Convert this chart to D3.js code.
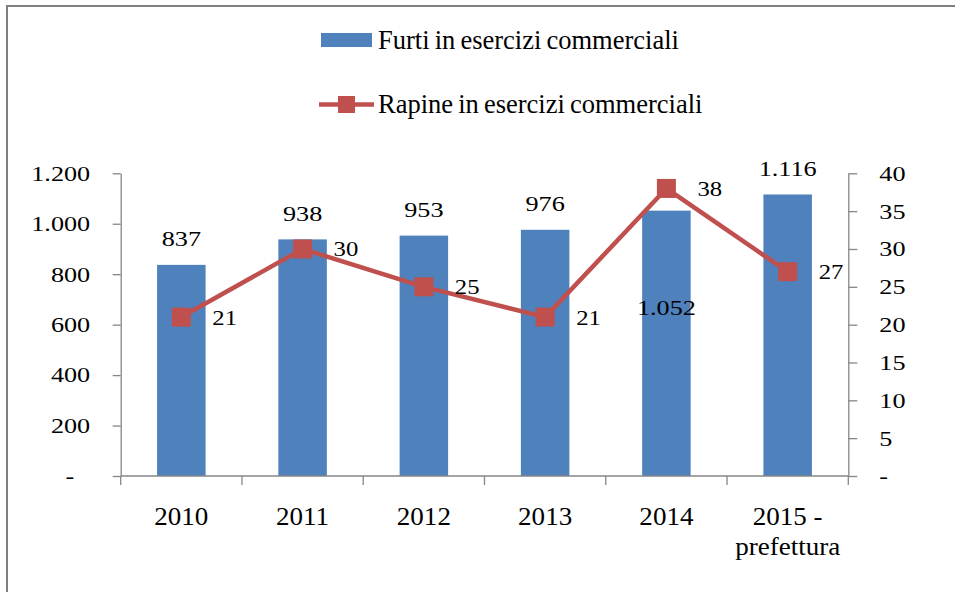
<!DOCTYPE html>
<html>
<head>
<meta charset="utf-8">
<script src="https://cdn.jsdelivr.net/npm/d3@7"></script>
<style>
  body { margin: 0; background: #fff; }
  svg { display: block; font-family: "Liberation Serif", "Times New Roman", serif; }
</style>
</head>
<body>
<svg id="chart"></svg>
<script>
// dati
const categories = ['2010', '2011', '2012', '2013', '2014', '2015 -\nprefettura'];
const furti = [837, 938, 953, 976, 1052, 1116];
const rapine = [21, 30, 25, 21, 38, 27];
const leftTicks = [0, 200, 400, 600, 800, 1000, 1200];
const rightTicks = [0, 5, 10, 15, 20, 25, 30, 35, 40];
const seriesNames = ['Furti in esercizi commerciali', 'Rapine in esercizi commerciali'];

const width = 955;
const height = 592;
const plot = { left: 120.7, right: 848.3, top: 173.3, bottom: 476 };
const barColor = '#4F81BD';
const lineColor = '#C0504D';
const axisColor = '#868686';
const numSize = 21.5;   // numeri un po' "allargati"
const stretch = 1.22;

// formato italiano: 1.200, zero = "-"
const fmt = v => v === 0 ? '-' : d3.format(',')(v).replace(/,/g, '.');

const svg = d3.select('#chart').attr('width', width).attr('height', height);

// cornice
svg.append('rect')
  .attr('x', 7).attr('y', 6)
  .attr('width', 1000).attr('height', 700)
  .attr('fill', '#fff')
  .attr('stroke', '#7f7f7f')
  .attr('stroke-width', 2);

// scale
const x = d3.scaleBand().domain(categories).range([plot.left, plot.right]).padding(0);
const yLeft = d3.scaleLinear().domain([0, 1200]).range([plot.bottom, plot.top]);
const yRight = d3.scaleLinear().domain([0, 40]).range([plot.bottom, plot.top]);
const barW = x.bandwidth() / 2.5;

// barre
svg.append('g')
  .selectAll('rect')
  .data(furti)
  .join('rect')
  .attr('x', (d, i) => x(categories[i]) + (x.bandwidth() - barW) / 2)
  .attr('y', d => yLeft(d))
  .attr('width', barW)
  .attr('height', d => plot.bottom - yLeft(d))
  .attr('fill', barColor);

// asse sinistro
const gLeft = svg.append('g')
  .attr('transform', `translate(${plot.left},0)`)
  .call(d3.axisLeft(yLeft).tickValues(leftTicks).tickFormat(fmt).tickSize(8).tickSizeOuter(0));
gLeft.selectAll('text')
  .attr('x', d => d === 0 ? -38 : -25)
  .attr('transform', `scale(${stretch},1)`);

// asse destro
const gRight = svg.append('g')
  .attr('transform', `translate(${plot.right},0)`)
  .call(d3.axisRight(yRight).tickValues(rightTicks).tickFormat(fmt).tickSize(9).tickSizeOuter(0));
gRight.selectAll('text')
  .attr('x', 25.4)
  .attr('transform', `scale(${stretch},1)`);

[gLeft, gRight].forEach(g => {
  g.selectAll('text')
    .attr('font-size', numSize)
    .attr('font-family', '"Liberation Serif", "Times New Roman", serif')
    .attr('fill', '#000');
  g.selectAll('line').attr('stroke', axisColor).attr('stroke-width', 1.3);
  g.select('.domain').attr('stroke', axisColor).attr('stroke-width', 1.3);
});

// asse x
svg.append('line')
  .attr('x1', plot.left).attr('x2', plot.right)
  .attr('y1', plot.bottom).attr('y2', plot.bottom)
  .attr('stroke', axisColor).attr('stroke-width', 1.3);

svg.append('g')
  .selectAll('line')
  .data(d3.range(categories.length + 1))
  .join('line')
  .attr('x1', i => plot.left + i * x.step())
  .attr('x2', i => plot.left + i * x.step())
  .attr('y1', plot.bottom)
  .attr('y2', plot.bottom + 9)
  .attr('stroke', axisColor).attr('stroke-width', 1.3);

const catLabels = svg.append('g')
  .selectAll('text')
  .data(categories)
  .join('text')
  .attr('text-anchor', 'middle')
  .attr('font-size', 26)
  .attr('fill', '#000')
  .attr('transform', d => `translate(${x(d) + x.bandwidth() / 2},525) scale(1.04,1)`);

catLabels.selectAll('tspan')
  .data(d => d.split('\n'))
  .join('tspan')
  .attr('x', 0)
  .attr('dy', (d, i) => i === 0 ? 0 : 30)
  .text(d => d);

// etichette barre
svg.append('g')
  .selectAll('text')
  .data(furti)
  .join('text')
  .attr('text-anchor', 'middle')
  .attr('font-size', numSize)
  .attr('fill', '#000')
  .attr('transform', (d, i) => {
    const cx = x(categories[i]) + x.bandwidth() / 2;
    // 2014: etichetta spostata dentro la barra
    const y = i === 4 ? yLeft(d) + 104 : yLeft(d) - 18.5;
    return `translate(${cx},${y}) scale(${stretch},1)`;
  })
  .text(fmt);

// linea rapine
const line = d3.line()
  .x((d, i) => x(categories[i]) + x.bandwidth() / 2)
  .y(d => yRight(d));

svg.append('path')
  .datum(rapine)
  .attr('fill', 'none')
  .attr('stroke', lineColor)
  .attr('stroke-width', 4.5)
  .attr('stroke-linejoin', 'round')
  .attr('d', line);

const mk = 19;
svg.append('g')
  .selectAll('rect')
  .data(rapine)
  .join('rect')
  .attr('x', (d, i) => x(categories[i]) + x.bandwidth() / 2 - mk / 2)
  .attr('y', d => yRight(d) - mk / 2)
  .attr('width', mk)
  .attr('height', mk)
  .attr('fill', lineColor);

svg.append('g')
  .selectAll('text')
  .data(rapine)
  .join('text')
  .attr('font-size', numSize)
  .attr('fill', '#000')
  .attr('transform', (d, i) => {
    const cx = x(categories[i]) + x.bandwidth() / 2 + 31;
    return `translate(${cx},${yRight(d) + 7.5}) scale(1.15,1)`;
  })
  .text(fmt);

// legenda
const legend = svg.append('g');

legend.append('rect')
  .attr('x', 321).attr('y', 33)
  .attr('width', 51).attr('height', 14)
  .attr('fill', barColor);

legend.append('line')
  .attr('x1', 319).attr('x2', 374)
  .attr('y1', 104.5).attr('y2', 104.5)
  .attr('stroke', lineColor)
  .attr('stroke-width', 4.5);

legend.append('rect')
  .attr('x', 338).attr('y', 96)
  .attr('width', 17).attr('height', 17)
  .attr('fill', lineColor);

legend.selectAll('text.leg')
  .data(seriesNames)
  .join('text')
  .attr('class', 'leg')
  .attr('x', 378)
  .attr('y', (d, i) => i === 0 ? 49.3 : 112.7)
  .attr('font-size', 26.5)
  .attr('fill', '#000')
  .attr('word-spacing', -1.5)
  .text(d => d);
</script>
</body>
</html>
